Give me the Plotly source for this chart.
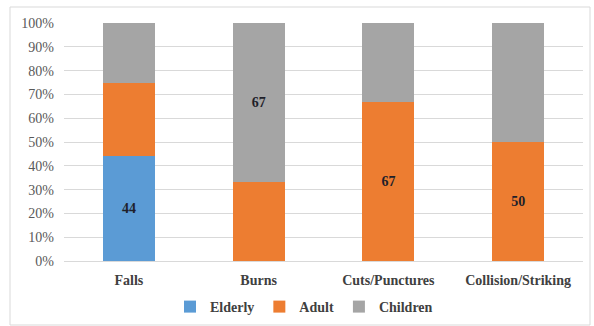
import plotly.graph_objects as go

categories = ["Falls", "Burns", "Cuts/Punctures", "Collision/Striking"]
elderly = [44, 0, 0, 0]
adult = [31, 33, 67, 50]
children = [25, 67, 33, 50]
elderly_labels = ["44", "", "", ""]
adult_labels = ["", "", "67", "50"]
children_labels = ["", "67", "", ""]

serif = "Liberation Serif"

fig = go.Figure()
for name, vals, labels, color in [
    ("Elderly", elderly, elderly_labels, "#5B9BD5"),
    ("Adult", adult, adult_labels, "#ED7D31"),
    ("Children", children, children_labels, "#A5A5A5"),
]:
    fig.add_trace(go.Bar(
        x=categories, y=vals, name=name, marker_color=color,
        marker_line_width=0,
        text=labels, textposition="inside", insidetextanchor="middle",
        textfont=dict(family=serif, size=14, color="#1f1f2a"),
        texttemplate="<b>%{text}</b>", hoverinfo="skip",
    ))

fig.update_layout(
    barmode="stack",
    bargap=0.6,
    width=594, height=326,
    margin=dict(l=64, r=11, t=23, b=65, autoexpand=False),
    plot_bgcolor="white", paper_bgcolor="white",
    font=dict(family=serif, color="#595959", size=12),
    uniformtext=dict(mode="show", minsize=12),
    showlegend=True,
    legend=dict(
        orientation="h", x=(304 - 64) / 519, xanchor="center",
        yref="container", y=1 - 291 / 326, yanchor="top",
        bgcolor="rgba(0,0,0,0)",
        font=dict(family=serif, size=14, color="#404040", weight="bold"),
        traceorder="normal", itemwidth=30,
    ),
    xaxis=dict(
        showgrid=False, showline=False, ticks="",
        ticklabelstandoff=9,
        tickfont=dict(family=serif, size=14, color="#404040", weight="bold"),
    ),
    yaxis=dict(
        range=[0, 100], dtick=10, ticksuffix="%",
        showgrid=True, gridcolor="#D9D9D9", gridwidth=1,
        zeroline=True, zerolinecolor="#D9D9D9", zerolinewidth=1,
        showline=False, ticks="",
        ticklabelstandoff=9,
        tickfont=dict(family=serif, size=14, color="#595959"),
    ),
    shapes=[dict(
        type="rect", xref="paper", yref="paper",
        x0=(10 - 64) / 519, x1=(590 - 64) / 519,
        y0=(261 - 325) / 238, y1=(261 - 7) / 238,
        line=dict(color="#D9D9D9", width=1), fillcolor="rgba(0,0,0,0)",
        layer="below",
    )],
)

fig.write_html("out.html")
